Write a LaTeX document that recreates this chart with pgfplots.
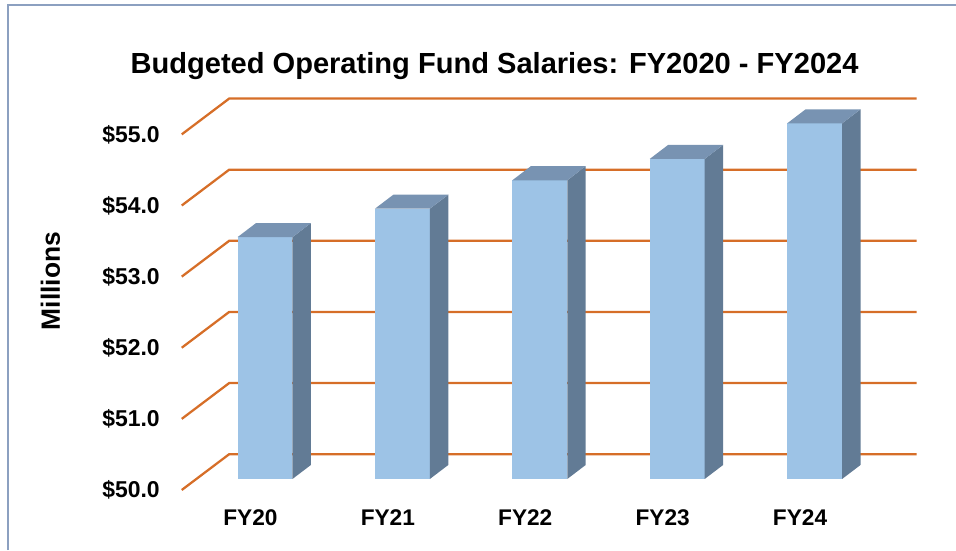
\documentclass[border=0pt]{standalone}
\usepackage{pgfplots}
\usepackage{pgfplotstable}
\pgfplotsset{compat=1.18}
\usepackage{fontspec}
\setmainfont{Liberation Sans}
\definecolor{gridc}{RGB}{214,110,40}
\definecolor{barfront}{RGB}{157,195,230}
\definecolor{barside}{RGB}{98,123,149}
\definecolor{bartop}{RGB}{120,147,178}
\definecolor{framec}{RGB}{140,160,192}
\pgfplotstableread{
idx value
0 53.40
1 53.80
2 54.20
3 54.50
4 55.00
}\salarydata
\begin{document}
\begin{tikzpicture}
\useasboundingbox (0,0) rectangle (717pt,412.5pt);
\draw[framec, line width=1.1pt] (6pt,0) |- (717pt,408.75pt);
\begin{axis}[
  at={(136.3pt,45pt)}, anchor=south west,
  scale only axis, width=551.25pt, height=293.6pt,
  xmin=-0.606, xmax=4.743, ymin=50, ymax=55.504,
  clip=false,
  axis line style={draw=none},
  major tick length=0pt,
  xtick={-0.106,0.894,1.894,2.894,3.894},
  xticklabels={FY20,FY21,FY22,FY23,FY24},
  ytick={50,51,52,53,54,55},
  yticklabels={\$50.0,\$51.0,\$52.0,\$53.0,\$54.0,\$55.0},
  xticklabel style={font=\fontsize{17}{20}\selectfont\bfseries, anchor=north, inner sep=0pt, yshift=-14.8pt},
  yticklabel style={font=\fontsize{17.2}{20}\selectfont\bfseries, anchor=east, inner sep=0pt, xshift=-16.3pt},
  every axis title shift=0pt,
  title={Budgeted Operating Fund Salaries: FY2020 - FY2024},
  title style={font=\fontsize{21.8}{24}\selectfont\bfseries, at={(axis description cs:0.4256,1.0627)}, anchor=base, inner sep=0pt},
  ylabel={Millions},
  ylabel style={font=\fontsize{19.8}{22}\selectfont\bfseries, at={(axis description cs:-0.1785,0.534)}, anchor=center, inner sep=0pt},
]
\pgfplotsforeachungrouped \k in {50,51,52,53,54,55}{
  \pgfmathsetmacro\kb{\k+0.504}
  \edef\temp{\noexpand\addplot[gridc, line width=1.7pt, line join=miter] coordinates {(-0.606,\k) (-0.2603,\kb) (4.743,\kb)};}
  \temp
}
\pgfplotsforeachungrouped \i in {0,1,2,3,4}{
  \pgfplotstablegetelem{\i}{value}\of\salarydata
  \let\v\pgfplotsretval
  \pgfmathsetmacro\xl{\i-0.2}
  \pgfmathsetmacro\xr{\i+0.2}
  \pgfmathsetmacro\xb{\i+0.334}
  \pgfmathsetmacro\xc{\i-0.066}
  \pgfmathsetmacro\yt{\v+0.155}
  \pgfmathsetmacro\yu{\v+0.352}
  \edef\temp{%
    \noexpand\addplot[fill=barfront,draw=none] coordinates {(\xl,50.155) (\xr,50.155) (\xr,\yt) (\xl,\yt)};
    \noexpand\addplot[fill=barside,draw=none] coordinates {(\xr,50.155) (\xb,50.352) (\xb,\yu) (\xr,\yt)};
    \noexpand\addplot[fill=bartop,draw=none] coordinates {(\xl,\yt) (\xr,\yt) (\xb,\yu) (\xc,\yu)};
  }
  \temp
}
\end{axis}
\end{tikzpicture}
\end{document}
